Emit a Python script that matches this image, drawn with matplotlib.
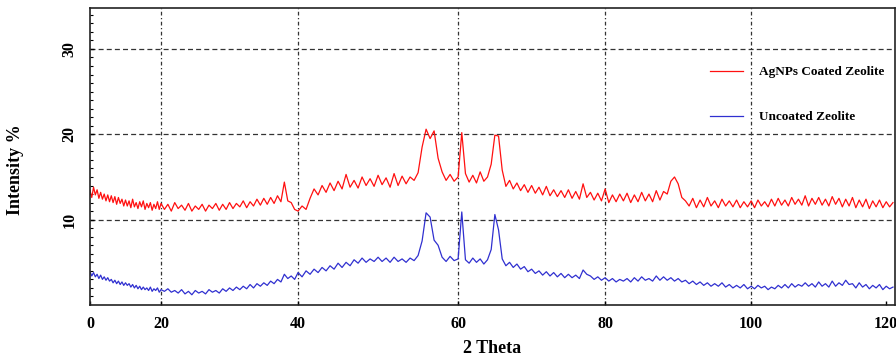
import numpy as np
import matplotlib
matplotlib.use("Agg")
import matplotlib.pyplot as plt

# 2 theta sampled every 0.5 degree
two_theta = np.arange(0, 121.5, 0.5)

coated = [
    13.4, 12.6, 13.8, 12.9, 13.5, 12.5, 13.2, 12.4, 13.0, 12.2, 12.9, 12.1, 12.8, 12.0, 12.7, 11.8, 12.6, 11.9, 12.4, 11.6,
    12.3, 11.6, 12.2, 11.4, 12.4, 11.5, 12.0, 11.3, 12.1, 11.5, 12.2, 11.2, 11.9, 11.4, 12.0, 11.1, 11.8, 11.3, 12.1, 11.2,
    11.9, 11.2, 11.8, 11.0, 12.0, 11.3, 11.7, 11.1, 11.9, 11.0, 11.6, 11.2, 11.8, 11.0, 11.7, 11.3, 11.9, 11.1, 11.8, 11.2,
    12.0, 11.3, 11.9, 11.5, 12.2, 11.4, 12.1, 11.6, 12.4, 11.7, 12.5, 11.8, 12.6, 11.9, 12.8, 12.1, 14.4, 12.2, 12.0, 11.2,
    11.0, 11.6, 11.2, 12.5, 13.6, 12.9, 14.0, 13.2, 14.3, 13.4, 14.5, 13.6, 15.3, 13.8, 14.6, 13.7, 15.0, 14.0, 14.8, 13.9,
    15.2, 14.1, 14.9, 13.8, 15.4, 14.0, 15.1, 14.2, 15.0, 14.6, 15.5, 18.5, 20.6, 19.5, 20.4, 17.2, 15.6, 14.6, 15.3, 14.5,
    15.0, 20.2, 15.4, 14.4, 15.2, 14.3, 15.6, 14.5, 15.0, 16.5, 19.9, 19.8, 15.8, 13.9, 14.6, 13.6, 14.3, 13.4, 14.1, 13.2,
    14.0, 13.1, 13.8, 12.9, 13.9, 12.8, 13.5, 12.7, 13.4, 12.6, 13.5, 12.5, 13.3, 12.4, 14.2, 12.6, 13.2, 12.3, 13.1, 12.2,
    13.6, 12.0, 12.9, 12.1, 13.0, 12.2, 13.1, 12.0, 12.9, 12.1, 13.2, 12.2, 13.0, 12.1, 13.4, 12.3, 13.3, 13.0, 14.5, 15.0,
    14.2, 12.6, 12.2, 11.6, 12.5, 11.4, 12.3, 11.5, 12.6, 11.6, 12.2, 11.4, 12.4, 11.6, 12.2, 11.5, 12.3, 11.4, 12.1, 11.5,
    12.2, 11.4, 12.3, 11.6, 12.1, 11.5, 12.4, 11.6, 12.5, 11.7, 12.3, 11.6, 12.6, 11.8, 12.4, 11.7, 12.8, 11.6, 12.5, 11.8,
    12.6, 11.7, 12.4, 11.6, 12.7, 11.8, 12.5, 11.5, 12.4, 11.6, 12.6, 11.4, 12.3, 11.5, 12.4, 11.3, 12.2, 11.5, 12.3, 11.4,
    12.1, 11.5, 12.0,
]

uncoated = [
    3.9, 3.4, 3.8, 3.3, 3.6, 3.1, 3.5, 3.0, 3.3, 2.9, 3.2, 2.8, 3.0, 2.6, 2.9, 2.5, 2.8, 2.4, 2.7, 2.3,
    2.6, 2.3, 2.5, 2.1, 2.4, 2.0, 2.3, 1.9, 2.2, 1.8, 2.1, 1.8, 2.0, 1.7, 2.1, 1.6, 1.9, 1.7, 2.0, 1.5,
    1.8, 1.6, 1.9, 1.5, 1.7, 1.4, 1.8, 1.3, 1.6, 1.2, 1.7, 1.4, 1.6, 1.3, 1.8, 1.5, 1.7, 1.4, 1.9, 1.6,
    2.0, 1.7, 2.1, 1.8, 2.2, 1.9, 2.4, 2.0, 2.5, 2.2, 2.6, 2.3, 2.8, 2.5, 3.0, 2.7, 3.6, 3.1, 3.4, 3.0,
    3.8, 3.3, 4.0, 3.6, 4.2, 3.8, 4.4, 4.0, 4.6, 4.2, 4.9, 4.4, 5.0, 4.6, 5.3, 4.9, 5.5, 5.0, 5.4, 5.1,
    5.6, 5.1, 5.5, 5.0, 5.6, 5.1, 5.4, 5.0, 5.5, 5.2, 5.8, 7.5, 10.8, 10.3, 7.6, 7.0, 5.6, 5.1, 5.7, 5.2,
    5.4, 10.9, 5.3, 4.9, 5.5, 5.0, 5.4, 4.8, 5.3, 6.5, 10.6, 8.8, 5.4, 4.6, 5.0, 4.4, 4.8, 4.2, 4.5, 3.9,
    4.2, 3.7, 4.0, 3.5, 3.9, 3.4, 3.8, 3.3, 3.7, 3.2, 3.6, 3.2, 3.5, 3.1, 4.1, 3.6, 3.4, 3.0, 3.3, 2.9,
    3.2, 2.8, 3.1, 2.7, 3.0, 2.8, 3.1, 2.7, 3.2, 2.8, 3.3, 2.9, 3.1, 2.8, 3.4, 2.9, 3.3, 2.9, 3.2, 2.8,
    3.1, 2.7, 2.9, 2.5, 2.8, 2.4, 2.7, 2.3, 2.6, 2.2, 2.5, 2.2, 2.6, 2.1, 2.4, 2.0, 2.3, 2.0, 2.4, 1.9,
    2.2, 1.9, 2.3, 2.0, 2.2, 1.8, 2.1, 1.9, 2.3, 2.0, 2.4, 2.0, 2.5, 2.1, 2.4, 2.2, 2.6, 2.2, 2.5, 2.1,
    2.7, 2.2, 2.5, 2.1, 2.8, 2.2, 2.6, 2.3, 2.9, 2.4, 2.5, 2.0, 2.6, 2.1, 2.4, 1.9, 2.3, 2.0, 2.4, 1.8,
    2.2, 1.9, 2.1,
]

x_ticks = [0, 20, 40, 60, 80, 100, 120]
y_ticks = [10, 20, 30]

# the original x axis is unevenly stretched; map it piecewise
warp_src = [-20, 0, 20, 40, 60, 80, 100, 120, 140]
warp_dst = [19, 90, 161, 298, 458, 605, 751, 886, 1021]


def fwd(x):
    return np.interp(x, warp_src, warp_dst)


def inv(p):
    return np.interp(p, warp_dst, warp_src)


plt.rcParams['font.family'] = ['Liberation Serif', 'DejaVu Serif']
plt.rcParams['font.weight'] = 'bold'

fig = plt.figure(figsize=(8.96, 3.64), dpi=100)
ax = fig.add_axes([90 / 896, 1 - 305 / 364, 805 / 896, 297 / 364])
ax.set_xscale('function', functions=(fwd, inv))

ax.plot(two_theta, coated, color='#ff1010', lw=0.9, label='AgNPs Coated Zeolite')
ax.plot(two_theta, uncoated, color='#3030d0', lw=0.9, label='Uncoated Zeolite')

ax.set_xlim(0, 121.3)
ax.set_ylim(0, 34.8)
ax.set_xticks(x_ticks)
ax.set_yticks(y_ticks)
ax.set_xticklabels([str(v) for v in x_ticks], fontsize=11.5, fontweight='bold')
ax.set_yticklabels([str(v) for v in y_ticks], fontsize=11.5, fontweight='bold',
                   rotation=90, va='center')
ax.set_yticks(np.arange(1, 35, 1), minor=True)
ax.tick_params(axis='both', which='major', direction='in', length=3, width=1)
ax.tick_params(axis='y', which='minor', direction='in', length=2, width=0.8)
ax.tick_params(axis='x', pad=8)
ax.tick_params(axis='y', pad=9)

for v in y_ticks:
    ax.axhline(v, color='#333333', lw=0.9, ls=(0, (4, 2.5)), zorder=0)
for v in x_ticks[1:-1]:
    ax.axvline(v, color='#333333', lw=0.9, ls=(0, (3, 2, 1, 2)), zorder=0)

for s in ax.spines.values():
    s.set_linewidth(1.2)
    s.set_color('#222222')

ax.set_xlabel('2 Theta', fontsize=13, fontweight='bold', labelpad=6)
ax.set_ylabel('Intensity %', fontsize=13, fontweight='bold')
ax.yaxis.set_label_coords(-0.082, 0.455)

leg = ax.legend(loc='upper left', bbox_to_anchor=(710 / 896, 1 - 66 / 364),
                bbox_transform=fig.transFigure, frameon=False, fontsize=9.5,
                handlelength=2.5, handletextpad=1.2, labelspacing=2.5,
                borderpad=0, borderaxespad=0)
for t in leg.get_texts():
    t.set_fontweight('bold')

fig.savefig('out.png', dpi=100)
